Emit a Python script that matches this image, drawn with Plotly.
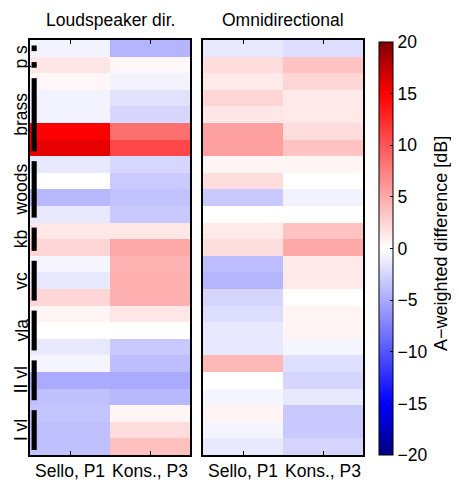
import plotly.graph_objects as go

# ---- data ----
groups = ["p s", "brass", "woods", "kb", "vc", "vla", "II vl", "I vl"]
group_sizes = [2, 5, 4, 2, 3, 3, 3, 3]
columns = ["Sello, P1", "Kons., P3"]
panel_titles = ["Loudspeaker dir.", "Omnidirectional"]

ls_sello = [-0.7, 1.5, 0.5, -0.7, -0.7, 15.0, 16.0, -1.35, 0.0, -4.2, -1.35, 1.4, 2.5,
            -0.6, -1.35, 2.5, 0.6, 0.0, -1.35, -0.6, -5.0, -3.7, -3.5, -3.7, -3.7]
ls_kons = [-4.4, 0.5, -0.7, -1.7, -2.4, 8.4, 10.8, -2.4, -3.1, -3.6, -3.2, 1.4, 5.1,
           4.4, 4.6, 4.6, 1.4, 0.0, -3.2, -3.8, -5.0, -4.2, 0.6, 2.0, 3.7]
om_sello = [-1.35, 2.0, 1.3, 2.5, 1.4, 5.6, 5.6, 0.6, 2.0, -3.2, 0.0, 1.3, 2.0,
            -3.9, -4.4, -2.5, -2.0, -1.35, -1.35, 4.2, 0.0, -0.6, 0.6, -0.6, -1.35]
om_kons = [-2.0, 3.5, 2.5, 1.3, 1.3, 2.0, 3.5, 0.6, 0.0, -0.7, 0.0, 3.5, 5.1,
           1.3, 1.3, 0.0, 0.6, 0.6, -0.6, -1.9, -2.5, -1.35, -3.2, -3.2, -2.5]

cbar_ticks = [-20, -15, -10, -5, 0, 5, 10, 15, 20]
cbar_title = "A\u2212weighted difference [dB]"

# page is offset by the default 8px body margin
OFF = 8
W, H = 459 - OFF, 482 - OFF
FONT = "Liberation Sans, Arial, sans-serif"
FS = 17.5


def px(x):
    return (x - OFF) / W


def py(y):
    return 1 - (y - OFF) / H


colorscale = [[0.0, "rgb(0,0,128)"], [0.125, "rgb(0,0,255)"], [0.5, "rgb(255,255,255)"],
              [0.875, "rgb(255,0,0)"], [1.0, "rgb(128,0,0)"]]

nrows = len(ls_sello)
rows = list(range(nrows))

fig = go.Figure()

panels = [(ls_sello, ls_kons), (om_sello, om_kons)]
for i, (a, b) in enumerate(panels):
    z = [[a[r], b[r]] for r in rows]
    kw = {}
    if i == 1:
        kw["colorbar"] = dict(
            x=px(379), xanchor="left", xpad=0, ypad=0,
            y=py(42), yanchor="top", len=(455 - 42) / H, lenmode="fraction",
            thickness=14, outlinewidth=1, outlinecolor="black",
            tickvals=cbar_ticks, ticktext=[str(t).replace("-", "\u2212") for t in cbar_ticks],
            ticks="inside", ticklen=3, tickcolor="black",
            tickfont=dict(family=FONT, size=FS, color="black"),
        )
    fig.add_trace(go.Heatmap(
        z=z, x=[0, 1], y=rows,
        xaxis="x" if i == 0 else "x2", yaxis="y" if i == 0 else "y2",
        colorscale=colorscale, zmin=-20, zmax=20,
        showscale=(i == 1), hoverinfo="skip", **kw,
    ))

ydom = [py(455), py(40)]
xdoms = [[px(30), px(190)], [px(203), px(363)]]

axis_common = dict(showline=True, linecolor="black", linewidth=1.5, mirror="ticks",
                   showgrid=False, zeroline=False)
for i in range(2):
    xa = "xaxis" if i == 0 else "xaxis2"
    ya = "yaxis" if i == 0 else "yaxis2"
    fig.layout[xa] = dict(domain=xdoms[i], range=[-0.5, 1.5], tickvals=[0, 1],
                          showticklabels=False,
                          ticks="inside", ticklen=4, tickcolor="black",
                          anchor="y" if i == 0 else "y2", **axis_common)
    fig.layout[ya] = dict(domain=ydom, range=[nrows - 0.5, -0.5], showticklabels=False, ticks="",
                          anchor="x" if i == 0 else "x2", **axis_common)

shapes = []
annotations = []

# column labels under each panel
for i in range(2):
    for j, c in enumerate(columns):
        annotations.append(dict(text=c, xref="x" if i == 0 else "x2", yref="paper",
                                x=j, y=py(471), showarrow=False,
                                xanchor="center", yanchor="middle",
                                font=dict(family=FONT, size=FS, color="black")))

# group markers and labels
start = 0
for g, n in zip(groups, group_sizes):
    if g == "p s":
        for r in range(start, start + n):
            shapes.append(dict(type="rect", xref="x domain", yref="y", x0=0.01, x1=0.042,
                               y0=r - 0.17, y1=r + 0.17, fillcolor="black", line_width=0))
    else:
        shapes.append(dict(type="rect", xref="x domain", yref="y", x0=0.01, x1=0.042,
                           y0=start - 0.5 + 0.3, y1=start + n - 0.5 - 0.3,
                           fillcolor="black", line_width=0))
    annotations.append(dict(text=g, xref="paper", yref="y", x=px(21), y=start + (n - 1) / 2,
                            textangle=-90, showarrow=False, xanchor="center", yanchor="middle",
                            font=dict(family=FONT, size=FS, color="black")))
    start += n

for i, t in enumerate(panel_titles):
    annotations.append(dict(text=t, xref="paper", yref="paper",
                            x=(xdoms[i][0] + xdoms[i][1]) / 2, y=py(20),
                            showarrow=False, xanchor="center", yanchor="middle",
                            font=dict(family=FONT, size=FS, color="black")))

# colorbar label
annotations.append(dict(text=cbar_title, xref="paper", yref="paper", x=px(441), y=py(244),
                        textangle=-90, showarrow=False, xanchor="center", yanchor="middle",
                        font=dict(family=FONT, size=18, color="black")))

fig.update_layout(width=W, height=H, margin=dict(l=0, r=0, t=0, b=0, autoexpand=False),
                  paper_bgcolor="white", plot_bgcolor="white",
                  shapes=shapes, annotations=annotations,
                  font=dict(family=FONT, size=FS, color="black"))

fig.write_html("out.html")
